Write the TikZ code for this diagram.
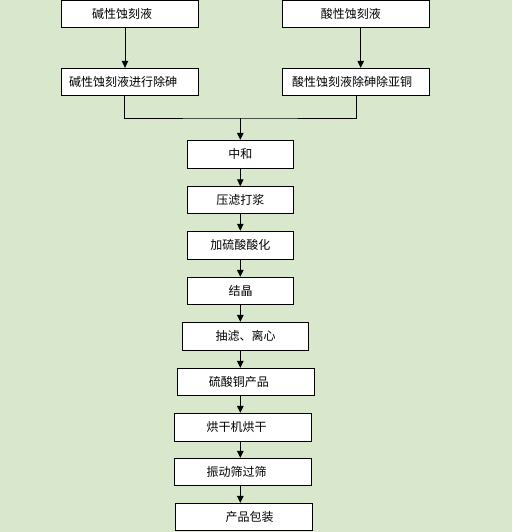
\documentclass[tikz,border=0pt]{standalone}
\usepackage{fontspec}
\setmainfont{Noto Sans CJK SC}
\usetikzlibrary{arrows.meta}
\definecolor{bg}{RGB}{217,232,205}
\tikzset{
  box/.style={draw=black,line width=0.9pt,fill=white,inner sep=0pt,font=\fontsize{12pt}{14pt}\selectfont},
  arr/.style={draw=black,line width=1pt,-{Triangle[length=7pt,width=6.5pt]}},
  ln/.style={draw=black,line width=1pt}
}
\begin{document}
\begin{tikzpicture}[x=1pt,y=-1pt]
\fill[bg] (0,0) rectangle (512,532);
\useasboundingbox (0,0) rectangle (512,532);
\node[box,minimum width=137pt,minimum height=27pt] (A) at (129.8,13.9) {碱性蚀刻液\hspace*{15.6pt}};
\node[box,minimum width=147pt,minimum height=27pt] (B) at (355.8,13.9) {酸性蚀刻液\hspace*{10pt}};
\node[box,minimum width=137pt,minimum height=27pt] (C) at (129.8,81.8) {碱性蚀刻液进行除砷\hspace*{13.6pt}};
\node[box,minimum width=147pt,minimum height=27pt] (D) at (355.8,81.8) {酸性蚀刻液除砷除亚铜\hspace*{7.6pt}};
\node[box,minimum width=106pt,minimum height=28pt] (E) at (240.3,154.3) {中和};
\node[box,minimum width=106pt,minimum height=26.6pt] (F) at (240.3,200) {压滤打浆};
\node[box,minimum width=106pt,minimum height=28pt] (G) at (240.3,245.2) {加硫酸酸化};
\node[box,minimum width=106.4pt,minimum height=27pt] (H) at (240.5,290.8) {结晶};
\node[box,minimum width=126.4pt,minimum height=28pt] (I) at (245.5,336.3) {抽滤、离心};
\node[box,minimum width=137pt,minimum height=27pt] (J) at (245.8,381.8) {硫酸铜产品\hspace*{14pt}};
\node[box,minimum width=137.4pt,minimum height=28pt] (K) at (243,427.3) {烘干机烘干\hspace*{12.6pt}};
\node[box,minimum width=137.4pt,minimum height=27pt] (L) at (243,471.8) {振动筛过筛\hspace*{12.6pt}};
\node[box,minimum width=137.4pt,minimum height=27pt] (M) at (244,516.8) {\hspace*{11pt}产品包装};
\draw[arr] ([xshift=-4.8pt]A.south) -- ([xshift=-4.8pt]C.north);
\draw[arr] ([xshift=4.9pt]B.south) -- ([xshift=4.9pt]D.north);
\coordinate (m) at (240.3,118);
\draw[ln] ([xshift=-5.5pt]C.south) |- (m) -| ([xshift=0.5pt]D.south);
\draw[arr] (m) -- (E.north);
\draw[arr] (E.south) -- (F.north);
\draw[arr] (F.south) -- (G.north);
\draw[arr] (G.south) -- (G.south |- H.north);
\draw[arr] (G.south |- H.south) -- (G.south |- I.north);
\draw[arr] (G.south |- I.south) -- (G.south |- J.north);
\draw[arr] (G.south |- J.south) -- (G.south |- K.north);
\draw[arr] (G.south |- K.south) -- (G.south |- L.north);
\draw[arr] (G.south |- L.south) -- (G.south |- M.north);
\end{tikzpicture}
\end{document}
